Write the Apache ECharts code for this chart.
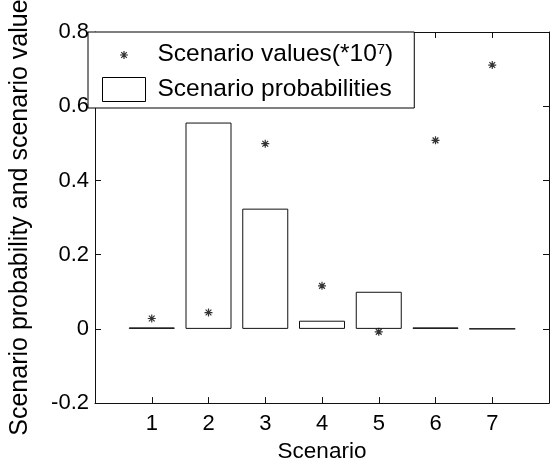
<!DOCTYPE html>
<html><head><meta charset="utf-8">
<script src="https://cdn.jsdelivr.net/npm/echarts@6/dist/echarts.min.js"></script>
<style>html,body{margin:0;padding:0;background:#fff}#c{width:552px;height:468px}</style>
</head><body><div id="c"></div>
<script>
const scenarios = [1, 2, 3, 4, 5, 6, 7];
const probabilities = [0.004, 0.556, 0.324, 0.022, 0.100, 0.004, 0.0002];
const scenarioValues = [0.028, 0.044, 0.499, 0.116, -0.008, 0.508, 0.711];
const xTickLabels = ['1', '2', '3', '4', '5', '6', '7'];
const yTickLabels = ['-0.2', '0', '0.2', '0.4', '0.6', '0.8'];

const FONT = 'Liberation Sans';
const AX = '#111';
const star = 'path://M0,-1L0,1M-1,0L1,0M-0.72,-0.72L0.72,0.72M-0.72,0.72L0.72,-0.72';
const legendStar = 'path://M0,0M43,24M21.5,8.5L21.5,16.5M17.5,12.5L25.5,12.5M18.7,9.7L24.3,15.3M18.7,15.3L24.3,9.7';

const chart = echarts.init(document.getElementById('c'), null, {renderer: 'canvas'});
const xLab = v => { const i = scenarios.indexOf(v); return i >= 0 ? xTickLabels[i] : ''; };
const yLab = v => { const i = Math.round((v + 0.2) / 0.2); return yTickLabels[i] !== undefined ? yTickLabels[i] : ''; };

chart.setOption({
  backgroundColor: '#fff',
  animation: false,
  grid: {left: 88, top: 32, right: -1, bottom: 57, show: false},
  legend: {
    orient: 'vertical', left: 88, top: 32,
    padding: [8, 21, 6, 12], itemGap: 8, itemWidth: 43, itemHeight: 24,
    borderColor: '#000', borderWidth: 1, backgroundColor: '#fff', borderRadius: 0,
    textStyle: {
      fontFamily: FONT, fontSize: 24.5, lineHeight: 24, color: '#000', padding: [0, 0, 0, 7],
      rich: {sup: {fontFamily: FONT, fontSize: 15, lineHeight: 24, color: '#000', verticalAlign: 'top'}}
    },
    formatter: n => n === 'Scenario values' ? 'Scenario values(*10{sup|7})' : n,
    data: [
      {name: 'Scenario values', icon: legendStar, itemStyle: {color: 'none', borderColor: '#000', borderWidth: 1.2}},
      {name: 'Scenario probabilities', icon: 'rect', itemStyle: {color: '#fff', borderColor: '#000', borderWidth: 1}}
    ]
  },
  xAxis: [
    {type: 'value', min: 0, max: 8, interval: 1, position: 'bottom',
     name: 'Scenario', nameLocation: 'middle', nameGap: 31,
     nameTextStyle: {fontFamily: FONT, fontSize: 22.5, color: '#000'},
     axisLine: {show: true, onZero: false, lineStyle: {color: AX, width: 1}},
     axisTick: {show: true, inside: true, length: 6, lineStyle: {color: AX}},
     axisLabel: {formatter: xLab, fontFamily: FONT, fontSize: 22, color: '#000', margin: 10},
     splitLine: {show: false}},
    {type: 'value', min: 0, max: 8, interval: 1, position: 'top',
     axisLine: {show: true, onZero: false, lineStyle: {color: AX, width: 1}},
     axisTick: {show: true, inside: true, length: 6, lineStyle: {color: AX}},
     axisLabel: {show: false}, splitLine: {show: false}}
  ],
  yAxis: [
    {type: 'value', min: -0.2, max: 0.8, interval: 0.2, position: 'left',
     name: 'Scenario probability and scenario value', nameLocation: 'middle', nameGap: 62,
     nameTextStyle: {fontFamily: FONT, fontSize: 25, color: '#000'},
     axisLine: {show: true, onZero: false, lineStyle: {color: AX, width: 1}},
     axisTick: {show: true, inside: true, length: 6, lineStyle: {color: AX}},
     axisLabel: {formatter: yLab, fontFamily: FONT, fontSize: 22, color: '#000', margin: 6},
     splitLine: {show: false}},
    {type: 'value', min: -0.2, max: 0.8, interval: 0.2, position: 'right',
     axisLine: {show: true, onZero: false, lineStyle: {color: AX, width: 1}},
     axisTick: {show: true, inside: true, length: 6, lineStyle: {color: AX}},
     axisLabel: {show: false}, splitLine: {show: false}}
  ],
  series: [
    {name: 'Scenario probabilities', type: 'bar', xAxisIndex: 0, yAxisIndex: 0,
     barWidth: 46, z: 2,
     itemStyle: {color: '#fff', borderColor: '#111', borderWidth: 1},
     data: scenarios.map((s, i) => [s, probabilities[i]])},
    {name: 'Scenario values', type: 'scatter', xAxisIndex: 0, yAxisIndex: 0,
     symbol: star, symbolSize: 8, z: 3,
     itemStyle: {color: 'none', borderColor: '#000', borderWidth: 1.2},
     data: scenarios.map((s, i) => [s, scenarioValues[i]])}
  ]
});
</script>
</body></html>
